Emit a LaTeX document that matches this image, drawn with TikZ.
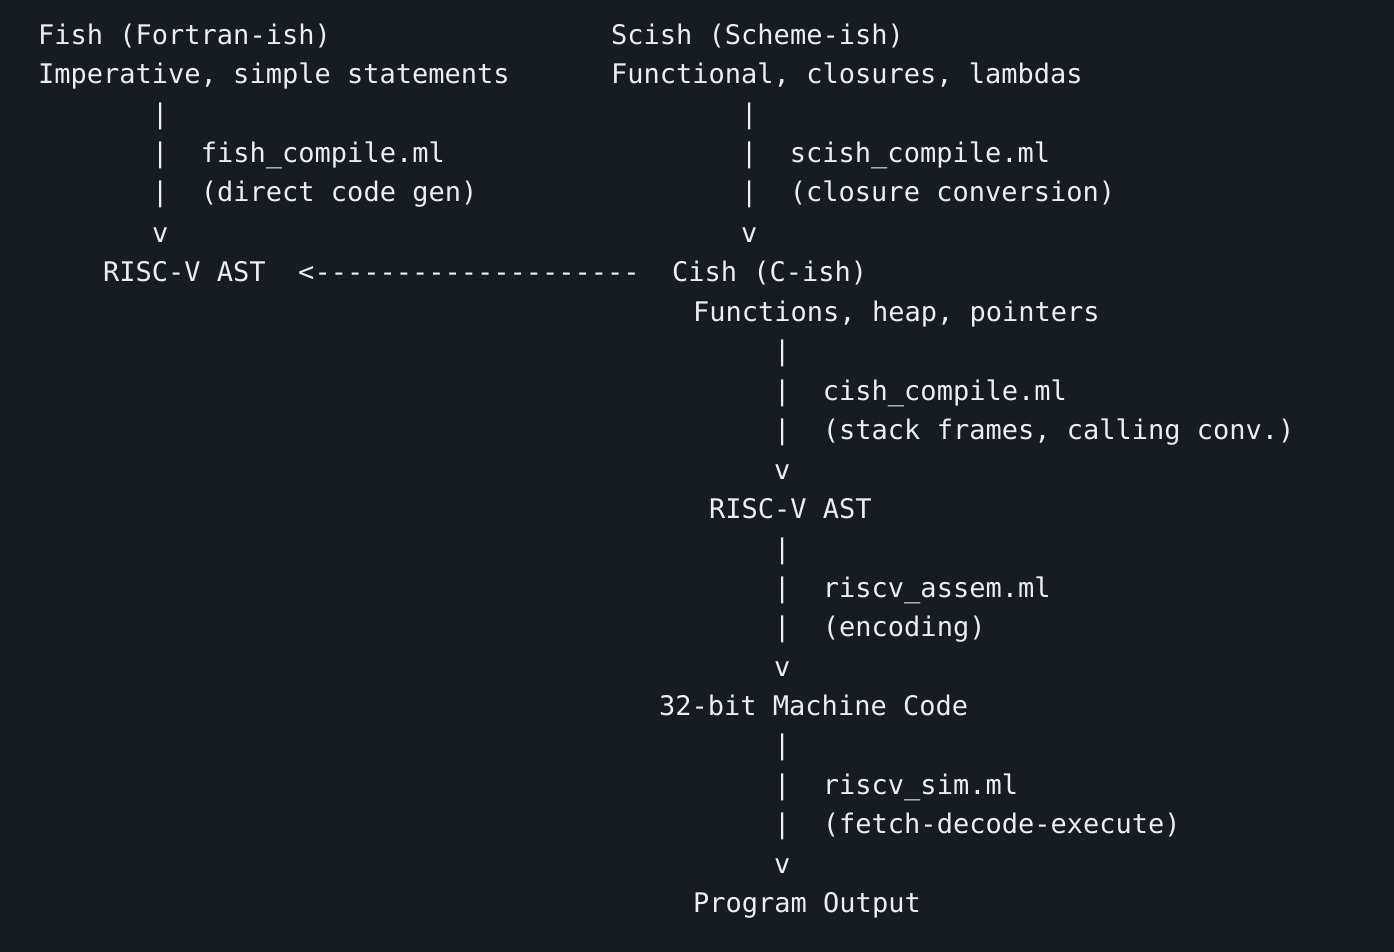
\documentclass[tikz,border=0pt]{standalone}
\usepackage{fontspec}
\setmonofont{DejaVu Sans Mono}
\definecolor{bg}{HTML}{171B22}
\definecolor{fg}{HTML}{ECEEF0}
\begin{document}
\begin{tikzpicture}[x=1pt,y=-1pt,
  t/.style={anchor=base west,inner sep=0pt,text=fg,font=\ttfamily\fontsize{27}{27}\selectfont}]
\fill[bg] (0,0) rectangle (1394,952);
\useasboundingbox (0,0) rectangle (1394,952);
\def\b{10}
\node[t] (fish) at (38,35+\b) {Fish (Fortran-ish)};
\node[t] (scish) at (611,35+\b) {Scish (Scheme-ish)};
\node[t] (fishd) at (38,74+\b) {Imperative, simple statements};
\node[t] (scishd) at (611,74+\b) {Functional, closures, lambdas};
\node[t] (f1) at (152,114+\b) {|};
\node[t] (f2) at (152,153+\b) {|\ \ fish\_compile.ml};
\node[t] (f3) at (152,192+\b) {|\ \ (direct code gen)};
\node[t] (f4) at (152,232+\b) {v};
\node[t] (s1) at (741,114+\b) {|};
\node[t] (s2) at (741,153+\b) {|\ \ scish\_compile.ml};
\node[t] (s3) at (741,192+\b) {|\ \ (closure conversion)};
\node[t] (s4) at (741,232+\b) {v};
\node[t] (row) at (103,271+\b) {RISC-V AST\ \ <--------------------\ \ Cish (C-ish)};
\node[t] (cishd) at (693,311+\b) {Functions, heap, pointers};
\node[t] (c1) at (774,350+\b) {|};
\node[t] (c2) at (774,390+\b) {|\ \ cish\_compile.ml};
\node[t] (c3) at (774,429+\b) {|\ \ (stack frames, calling conv.)};
\node[t] (c4) at (774,469+\b) {v};
\node[t] (rv) at (709,508+\b) {RISC-V AST};
\node[t] (a1) at (774,548+\b) {|};
\node[t] (a2) at (774,587+\b) {|\ \ riscv\_assem.ml};
\node[t] (a3) at (774,626+\b) {|\ \ (encoding)};
\node[t] (a4) at (774,666+\b) {v};
\node[t] (mc) at (659,705+\b) {32-bit Machine Code};
\node[t] (m1) at (774,744+\b) {|};
\node[t] (m2) at (774,784+\b) {|\ \ riscv\_sim.ml};
\node[t] (m3) at (774,823+\b) {|\ \ (fetch-decode-execute)};
\node[t] (m4) at (774,863+\b) {v};
\node[t] (po) at (693,902+\b) {Program Output};
\end{tikzpicture}
\end{document}
